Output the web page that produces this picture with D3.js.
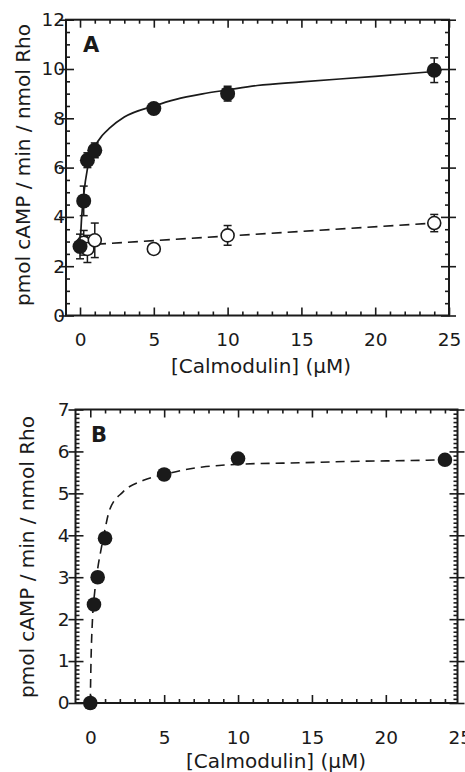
<!DOCTYPE html>
<html><head><meta charset="utf-8">
<script src="https://cdn.jsdelivr.net/npm/d3@7"></script>
<style>
body{margin:0;background:#fff}
svg{display:block}
text{font-family:"DejaVu Sans",sans-serif;fill:#1a1a1a}
</style>
</head><body>
<svg id="chart" width="465" height="772"></svg>
<script>
// ---- Panel A data ----
const concA = [0, 0.25, 0.5, 1, 5, 10, 24];
const activityA = [2.8, 4.65, 6.3, 6.7, 8.4, 9.0, 9.95];
const errA = [0.5, 0.6, 0.3, 0.3, 0.12, 0.3, 0.5];
const concAopen = [0.25, 0.5, 1, 5, 10, 24];
const activityAopen = [2.95, 2.7, 3.05, 2.7, 3.25, 3.75];
const errAopen = [0.5, 0.55, 0.7, 0.15, 0.4, 0.35];
const fitAx = [0, 0.1, 0.25, 0.5, 0.75, 1, 1.5, 2, 3, 5, 6.5, 8.3, 10, 12, 15, 20, 24];
const fitAy = [2.8, 3.9, 4.9, 5.95, 6.5, 6.85, 7.3, 7.6, 8.05, 8.5, 8.77, 8.99, 9.15, 9.33, 9.48, 9.7, 9.9];
const lineAx = [0, 24];
const lineAy = [2.85, 3.75];
// ---- Panel B data ----
const concB = [0, 0.25, 0.5, 1, 5, 10, 24];
const activityB = [0, 2.35, 3.0, 3.93, 5.45, 5.83, 5.8];
const fitBx = [0, 0.05, 0.15, 0.3, 0.5, 0.75, 1, 1.3, 2.2, 3.6, 5, 6.2, 7.6, 8.9, 11.2, 13, 17.4, 22.8, 24];
const fitBy = [0, 1.0, 2.0, 2.65, 3.2, 3.7, 4.15, 4.6, 5.03, 5.31, 5.45, 5.55, 5.63, 5.67, 5.71, 5.72, 5.76, 5.79, 5.8];
// ---- ticks / labels ----
const xTicks = [0, 5, 10, 15, 20, 25];
const yTicksA = [0, 2, 4, 6, 8, 10, 12];
const yTicksB = [0, 1, 2, 3, 4, 5, 6, 7];
const xLabel = "[Calmodulin] (\u03bcM)";
const yLabel = "pmol cAMP / min / nmol Rho";

const svg = d3.select("#chart");
const INK = "#1a1a1a";

function panel(cfg) {
  const g = svg.append("g");
  const x = d3.scaleLinear().domain(cfg.xDomain).range([cfg.left, cfg.right]);
  const y = d3.scaleLinear().domain(cfg.yDomain).range([cfg.bottom, cfg.top]);
  const [x0, x1] = cfg.xDomain, [y0, y1] = cfg.yDomain;
  const inX = v => v >= x0 && v <= x1 + 1e-9;
  const inY = v => v >= y0 - 1e-9 && v <= y1 + 1e-9;
  const xMaj = xTicks.filter(inX);
  const xMin = d3.range(0, 26, 1).filter(v => inX(v) && !xTicks.includes(v));
  const yMaj = cfg.yTicks;
  const yMin = d3.range(y0, y1 + 1e-9, cfg.yMinor).map(v => +v.toFixed(3)).filter(v => inY(v) && !yMaj.includes(v));

  function draw(axis, transform) {
    const a = g.append("g").attr("transform", transform).call(axis);
    a.select(".domain").remove();
    a.selectAll("line").attr("stroke", INK).attr("stroke-width", 1.6);
    a.selectAll("text").remove();
    return a;
  }
  // bottom (inward ticks)
  draw(d3.axisTop(x).tickValues(xMaj).tickSize(8), `translate(0,${cfg.bottom})`);
  draw(d3.axisTop(x).tickValues(xMin).tickSize(4), `translate(0,${cfg.bottom})`);
  // top (inward)
  draw(d3.axisBottom(x).tickValues(xMaj).tickSize(8), `translate(0,${cfg.top})`);
  draw(d3.axisBottom(x).tickValues(xMin).tickSize(4), `translate(0,${cfg.top})`);
  // left: majors cross, minors inward
  draw(d3.axisLeft(y).tickValues(yMaj).tickSize(7), `translate(${cfg.left},0)`);
  draw(d3.axisRight(y).tickValues(yMaj).tickSize(8), `translate(${cfg.left},0)`);
  draw(d3.axisRight(y).tickValues(yMin).tickSize(4), `translate(${cfg.left},0)`);
  // right: majors cross, minors inward
  draw(d3.axisRight(y).tickValues(yMaj).tickSize(7), `translate(${cfg.right},0)`);
  draw(d3.axisLeft(y).tickValues(yMaj).tickSize(8), `translate(${cfg.right},0)`);
  draw(d3.axisLeft(y).tickValues(yMin).tickSize(4), `translate(${cfg.right},0)`);

  // frame
  g.append("rect").attr("x", cfg.left).attr("y", cfg.top)
    .attr("width", cfg.right - cfg.left).attr("height", cfg.bottom - cfg.top)
    .attr("fill", "none").attr("stroke", INK).attr("stroke-width", 2);

  // tick labels
  const xl = g.append("g").attr("transform", `translate(0,${cfg.bottom})`)
    .call(d3.axisBottom(x).tickValues(xTicks).tickSize(0).tickPadding(cfg.xPad).tickFormat(d3.format("d")));
  xl.select(".domain").remove();
  xl.selectAll("text").attr("font-size", 18.5).attr("font-family", "DejaVu Sans").attr("fill", INK);
  const yl = g.append("g").attr("transform", `translate(${cfg.left},0)`)
    .call(d3.axisLeft(y).tickValues(yMaj).tickSize(0).tickPadding(cfg.yPad).tickFormat(d3.format("d")));
  yl.select(".domain").remove();
  yl.selectAll("text").attr("font-size", 18.5).attr("font-family", "DejaVu Sans").attr("fill", INK);

  // axis titles
  g.append("text").attr("x", cfg.xLabelX).attr("y", cfg.xLabelY)
    .attr("text-anchor", "middle").attr("font-size", 20).text(xLabel);
  g.append("text").attr("transform", `translate(${cfg.yLabelX},${cfg.yLabelY}) rotate(-90)`)
    .attr("text-anchor", "middle").attr("dominant-baseline", "central")
    .attr("font-size", 20).text(yLabel);

  // panel letter
  g.append("text").attr("x", cfg.letterX).attr("y", cfg.letterY)
    .attr("font-family", "Liberation Sans, Arial, sans-serif").attr("font-weight", "bold")
    .attr("font-size", 21).text(cfg.letter);

  return {g, x, y};
}

// ---------- Panel A ----------
const A = panel({
  left: 66, right: 449, top: 19.7, bottom: 315.5,
  xDomain: [-0.95, 25], yDomain: [0, 12], yTicks: yTicksA, yMinor: 0.5,
  xPad: 17, yPad: 1,
  xLabelX: 261, xLabelY: 373, yLabelX: 23, yLabelY: 165,
  letter: "A", letterX: 83, letterY: 52
});
{
  const {g, x, y} = A;
  const curve = d3.line().x(d => x(d[0])).y(d => y(d[1])).curve(d3.curveMonotoneX);
  g.append("path").datum(d3.zip(fitAx, fitAy)).attr("d", curve)
    .attr("fill", "none").attr("stroke", INK).attr("stroke-width", 1.7);
  g.append("path").datum(d3.zip(lineAx, lineAy)).attr("d", d3.line().x(d => x(d[0])).y(d => y(d[1])))
    .attr("fill", "none").attr("stroke", INK).attr("stroke-width", 1.6).attr("stroke-dasharray", "10,6");

  function errBars(xs, ys, es) {
    const eg = g.append("g").attr("stroke", INK).attr("stroke-width", 1.5);
    xs.forEach((xv, i) => {
      const cx = x(xv), t = y(ys[i] + es[i]), b = y(ys[i] - es[i]);
      eg.append("line").attr("x1", cx).attr("x2", cx).attr("y1", t).attr("y2", b);
      eg.append("line").attr("x1", cx - 4).attr("x2", cx + 4).attr("y1", t).attr("y2", t);
      eg.append("line").attr("x1", cx - 4).attr("x2", cx + 4).attr("y1", b).attr("y2", b);
    });
  }
  errBars(concAopen, activityAopen, errAopen);
  g.append("g").selectAll("circle").data(d3.zip(concAopen, activityAopen)).join("circle")
    .attr("cx", d => x(d[0])).attr("cy", d => y(d[1])).attr("r", 6.5)
    .attr("fill", "#fff").attr("stroke", INK).attr("stroke-width", 1.6);
  errBars(concA, activityA, errA);
  g.append("g").selectAll("circle").data(d3.zip(concA, activityA)).join("circle")
    .attr("cx", d => x(d[0])).attr("cy", d => y(d[1])).attr("r", 7.5).attr("fill", INK);
}

// ---------- Panel B ----------
const B = panel({
  left: 75.5, right: 457.5, top: 409.5, bottom: 703,
  xDomain: [-1, 24.85], yDomain: [0, 7], yTicks: yTicksB, yMinor: 0.1,
  xPad: 28, yPad: 6,
  xLabelX: 276, xLabelY: 768, yLabelX: 27, yLabelY: 557,
  letter: "B", letterX: 91, letterY: 442
});
{
  const {g, x, y} = B;
  const curve = d3.line().x(d => x(d[0])).y(d => y(d[1])).curve(d3.curveMonotoneX);
  g.append("path").datum(d3.zip(fitBx, fitBy)).attr("d", curve)
    .attr("fill", "none").attr("stroke", INK).attr("stroke-width", 1.6).attr("stroke-dasharray", "9,6");
  g.append("g").selectAll("circle").data(d3.zip(concB, activityB)).join("circle")
    .attr("cx", d => x(d[0])).attr("cy", d => y(d[1])).attr("r", 7.3).attr("fill", INK);
}
</script>
</body></html>
